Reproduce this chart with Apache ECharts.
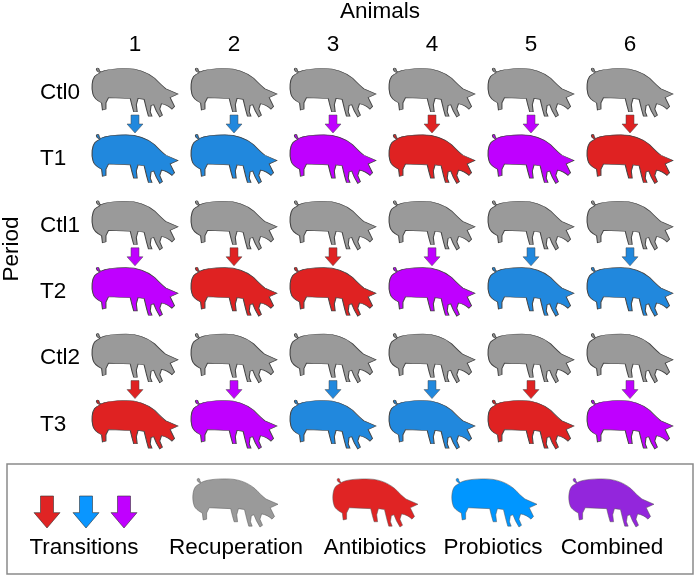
<!DOCTYPE html>
<html style="height: 100%">
  <head>
    <meta charset="utf-8" />
    <title>Pig treatment periods</title>
    <script src="https://cdn.jsdelivr.net/npm/echarts@6/dist/echarts.min.js"></script>
  </head>
  <body style="height: 100%; margin: 0; background: #fff">
    <div id="container" style="width: 699px; height: 577px"></div>

    <script type="text/javascript">
      // data
      var animals = ['1', '2', '3', '4', '5', '6'];
      var periods = ['Ctl0', 'T1', 'Ctl1', 'T2', 'Ctl2', 'T3'];
      var rowCtl0 = ['Recuperation', 'Recuperation', 'Recuperation', 'Recuperation', 'Recuperation', 'Recuperation'];
      var rowT1 = ['Probiotics', 'Probiotics', 'Combined', 'Antibiotics', 'Combined', 'Antibiotics'];
      var rowCtl1 = ['Recuperation', 'Recuperation', 'Recuperation', 'Recuperation', 'Recuperation', 'Recuperation'];
      var rowT2 = ['Combined', 'Antibiotics', 'Antibiotics', 'Combined', 'Probiotics', 'Probiotics'];
      var rowCtl2 = ['Recuperation', 'Recuperation', 'Recuperation', 'Recuperation', 'Recuperation', 'Recuperation'];
      var rowT3 = ['Antibiotics', 'Combined', 'Probiotics', 'Probiotics', 'Antibiotics', 'Combined'];
      var rows = [rowCtl0, rowT1, rowCtl1, rowT2, rowCtl2, rowT3];
      var legendNames = ['Recuperation', 'Antibiotics', 'Probiotics', 'Combined'];

      var pigColors = {
        Recuperation: '#9a9a9a',
        Antibiotics: '#df2222',
        Probiotics: '#2188dd',
        Combined: '#bf00ff'
      };
      var legendColors = {
        Recuperation: '#9a9a9a',
        Antibiotics: '#e02424',
        Probiotics: '#0096ff',
        Combined: '#9326dc'
      };

      var PIG = 'M10,6 C8,5 6,4 6,2 C6,0 9,0 9,2 C9,3 9,4 11,5 C17,2 27,1 40,1 ' +
        'C52,1 63,4 73,12 C78,17 82,21 86,24 L100,30 L91,34 L96,44 L93,47 ' +
        'C90,44 86,42 81,41 L79,47 L82,54 L79,56 L75,49 L72,42 L69,43 L68,50 ' +
        'L70,55 L66,55 L64,48 L61,36 L54,35 L52,42 L53,50 L49,50 L47,43 L45,35 ' +
        'L20,34 L17,40 L17,47 L13,48 L12,40 C8,38 3,35 2,30 C0,23 1,14 4,10 ' +
        'C6,8 8,7 10,6 Z';
      var ARROW = 'M25,0 L75,0 L75,50 L100,50 L50,100 L0,50 L25,50 Z';
      var FONT = '"Liberation Sans", Arial, sans-serif';

      // pig outline as a graphic shape for the legend
      echarts.graphic.registerShape('pig', echarts.graphic.extendPath(PIG, {}));

      // pigs: one per animal and period
      var pigData = [];
      rows.forEach(function (row, p) {
        row.forEach(function (t, a) {
          pigData.push({
            value: [animals[a], periods[p]],
            itemStyle: { color: pigColors[t] }
          });
        });
      });

      // arrows: from each control period into the following treatment
      var arrowData = [];
      for (var p = 1; p < rows.length; p += 2) {
        rows[p].forEach(function (t, a) {
          arrowData.push({
            value: [animals[a], periods[p - 1]],
            itemStyle: { color: pigColors[t] }
          });
        });
      }

      // legend graphics
      var graphics = [
        {
          type: 'text', x: 340, y: 12,
          style: { text: 'Animals', font: '22.5px ' + FONT, fill: '#000',
                   align: 'left', verticalAlign: 'middle' }
        },
        {
          type: 'text', x: 12, y: 249, rotation: Math.PI / 2,
          style: { text: 'Period', font: '22.5px ' + FONT, fill: '#000',
                   align: 'center', verticalAlign: 'middle' }
        },
        {
          type: 'rect',
          shape: { x: 7, y: 464, width: 686, height: 110 },
          style: { fill: '#fff', stroke: '#8a8a8a', lineWidth: 1.5 }
        }
      ];
      var arrowLegend = [
        [47, '#e02424'], [86, '#0a96ff'], [124, '#c000ff']
      ];
      arrowLegend.forEach(function (d) {
        var x0 = d[0] - 13, y0 = 496, w = 26, h = 32;
        graphics.push({
          type: 'polygon',
          shape: {
            points: [
              [x0 + w * 0.25, y0], [x0 + w * 0.75, y0], [x0 + w * 0.75, y0 + h * 0.52],
              [x0 + w, y0 + h * 0.52], [x0 + w / 2, y0 + h], [x0, y0 + h * 0.52],
              [x0 + w * 0.25, y0 + h * 0.52]
            ]
          },
          style: { fill: d[1], stroke: '#333', lineWidth: 0.6 }
        });
      });
      var pigLegendX = [192, 332, 451, 568];
      legendNames.forEach(function (n, i) {
        graphics.push({
          type: 'pig',
          x: pigLegendX[i], y: 478, scaleX: 0.86, scaleY: 0.875,
          style: { fill: legendColors[n], stroke: '#555', lineWidth: 0.6 }
        });
      });
      var legendTexts = [
        ['Transitions', 84], ['Recuperation', 236], ['Antibiotics', 375],
        ['Probiotics', 493], ['Combined', 612]
      ];
      legendTexts.forEach(function (d) {
        graphics.push({
          type: 'text', x: d[1], y: 548,
          style: { text: d[0], font: '22.5px ' + FONT, fill: '#000',
                   align: 'center', verticalAlign: 'middle' }
        });
      });

      var myChart = echarts.init(document.getElementById('container'));
      myChart.setOption({
        backgroundColor: '#fff',
        animation: false,
        grid: { left: 85.5, right: 19.5, top: 59.3, bottom: 119.3 },
        xAxis: {
          type: 'category',
          position: 'top',
          data: animals,
          axisLine: { show: false },
          axisTick: { show: false },
          splitLine: { show: false },
          axisLabel: { margin: 3, fontSize: 22.5, color: '#000', fontFamily: FONT }
        },
        yAxis: {
          type: 'category',
          inverse: true,
          data: periods,
          axisLine: { show: false },
          axisTick: { show: false },
          splitLine: { show: false },
          axisLabel: { margin: 45.5, align: 'left', fontSize: 22.5, color: '#000', fontFamily: FONT }
        },
        series: [
          {
            type: 'scatter',
            symbol: 'path://' + PIG,
            symbolSize: [86, 49],
            itemStyle: { borderColor: '#444', borderWidth: 0.8, opacity: 1 },
            data: pigData,
            z: 2
          },
          {
            type: 'scatter',
            symbol: 'path://' + ARROW,
            symbolSize: [16, 18],
            symbolOffset: [0, 31.5],
            itemStyle: { borderColor: '#444', borderWidth: 0.5, opacity: 1 },
            data: arrowData,
            z: 3
          }
        ],
        graphic: graphics
      });
    </script>
  </body>
</html>
